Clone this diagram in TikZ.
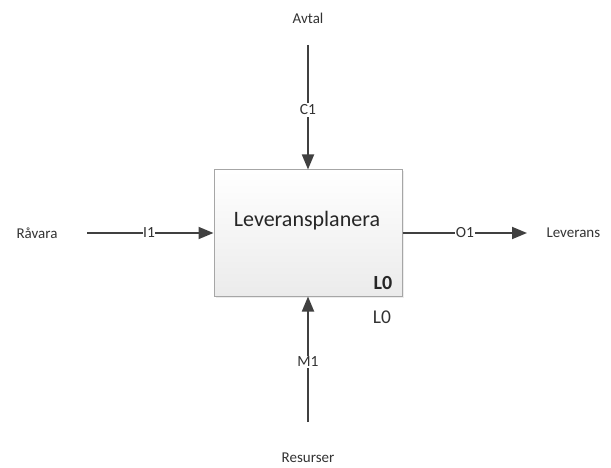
\documentclass[tikz,border=0pt]{standalone}
\usepackage{fontspec}
\setmainfont{Carlito}
\usetikzlibrary{arrows.meta,shadows}
\definecolor{linegray}{HTML}{404040}
\definecolor{textgray}{HTML}{333333}
\definecolor{boxedge}{HTML}{A6A6A6}
\definecolor{boxlow}{HTML}{EBEBEB}
\begin{document}
\begin{tikzpicture}[x=1pt,y=-1pt,
  flow/.style={draw=linegray,line width=1.8pt,-{Triangle[length=15pt,width=12pt]}},
  tag/.style={fill=white,inner sep=1.5pt,text=textgray,font=\fontsize{15.5}{17}\selectfont},
  ext/.style={text=textgray,font=\fontsize{15}{17}\selectfont},
  activity/.style={draw=boxedge,line width=1pt,top color=white,bottom color=boxlow,
    minimum width=188pt,minimum height=126pt,inner sep=0pt,
    drop shadow={opacity=0.15,shadow xshift=1.5pt,shadow yshift=-1.5pt}}]
\useasboundingbox (0,0) rectangle (611,468);

% the activity box
\node[activity] (box) at (308,233) {};
\node[font=\fontsize{22}{25}\selectfont,text=black!85] (title) at (307,221) {Leveransplanera};
\node[font=\bfseries\fontsize{20}{23}\selectfont,text=black!85] (inlevel) at (383,283) {L0};
\node[font=\fontsize{19.5}{22}\selectfont,text=textgray] (outlevel) at (382,317) {L0};

% control
\node[ext] (avtal) at (308,18) {Avtal};
\coordinate (ctop) at (308,45);
\draw[flow] (ctop) -- (box.north);
\node[tag] (c1) at (308,110) {C1};

% input
\node[ext] (ravara) at (37,233) {Råvara};
\coordinate (ileft) at (87,233);
\draw[flow] (ileft) -- (box.west);
\node[tag,inner sep=0.5pt] (i1) at (149,233) {I1};

% output
\coordinate (oright) at (527,233);
\draw[flow] (box.east) -- (oright);
\node[tag,inner sep=0.5pt] (o1) at (465,233) {O1};
\node[ext,anchor=west] (leverans) at (543,233) {Leverans};

% mechanism
\coordinate (mbot) at (308,422);
\draw[flow] (mbot) -- (box.south);
\node[tag] (m1) at (308,362) {M1};
\node[ext] (resurser) at (308,458) {Resurser};
\end{tikzpicture}
\end{document}
